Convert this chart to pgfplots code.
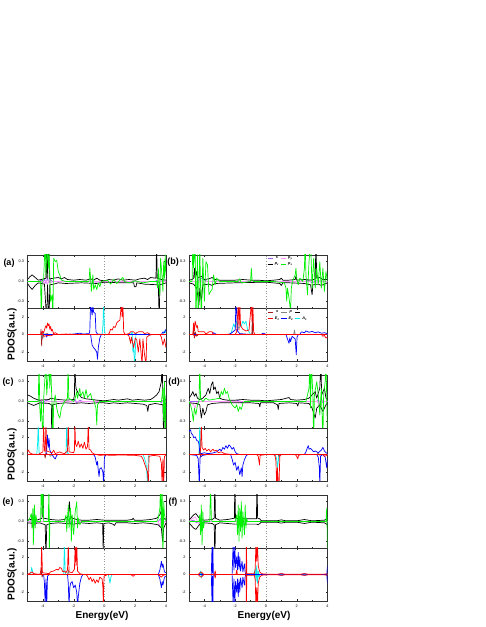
\documentclass[border=0pt]{standalone}
\usepackage{fontspec}
\setmainfont{Liberation Sans}
\usepackage{pgfplots}
\pgfplotsset{compat=1.18}

\definecolor{cs}{RGB}{160,90,250}
\definecolor{cpy}{RGB}{255,150,255}
\definecolor{cpx}{RGB}{0,240,0}
\definecolor{cbs}{RGB}{160,30,30}
\definecolor{cbp}{RGB}{130,130,130}
\definecolor{ce1}{RGB}{255,0,0}
\definecolor{ce2}{RGB}{0,0,255}
\definecolor{ca1}{RGB}{0,235,235}

\pgfplotsset{
  pbase/.style={scale only axis, width=138.5pt, height=53pt, xmin=-5, xmax=4,
    xtick={-4,-2,0,2,4}, minor x tick num=1, tick align=inside,
    axis line style={black!80, line width=0.6pt},
    major tick length=1.6pt, minor tick length=1pt,
    tick style={black!85, line width=0.3pt},
    ticklabel style={font=\fontsize{3.8}{4}\selectfont},
    every axis plot/.append style={line width=0.7pt, line join=round},
    anchor=south west},
  ptop/.style={pbase, ymin=-0.4, ymax=0.4, ytick={-0.3,0,0.3}, yticklabels={-0.3,0.0,0.3}, xticklabels={}},
  pbot/.style={pbase, ymin=-3, ymax=3, ytick={-2,0,2}, yticklabels={-2,0,2}, xticklabels={-4,-2,0,2,4}},
  shortleg/.style={legend image code/.code={\draw[##1] (0pt,0pt) -- (5.5pt,0pt);}},
  legsty/.style={legend style={at={(0.56,#1)}, anchor=north west, draw=none, fill=none,
    font=\fontsize{3.8}{4}\selectfont\bfseries\itshape, inner sep=0.3pt,
    nodes={inner sep=0.6pt}, column sep=0.8pt, row sep=1.2pt}},
}
\newcommand{\zline}{\addplot[dotted, gray!80, line width=0.5pt] coordinates {(0,-5) (0,5)};}

\begin{document}
\begin{tikzpicture}
\path[use as bounding box] (0pt,0pt) rectangle (485pt,627pt);

% ---------------- (a) top
\begin{axis}[ptop, at={(27.5pt,319pt)}]
\zline
\addplot[cs] coordinates {(-5,0) (-4.2,0) (-4.1,0.03) (-4.0,-0.02) (-3.9,0.04) (-3.8,-0.03) (-3.7,0.05) (-3.6,-0.02) (-3.5,0.03) (-3.4,0) (-1,0) (-0.9,0.01) (-0.8,-0.01) (0,0) (3.3,0) (3.4,0.02) (3.5,-0.02) (3.7,0.01) (4,0)};
\addplot[cpy] coordinates {(-5,0) (-4.0,0) (-3.9,-0.03) (-3.8,0.02) (-3.7,-0.04) (-3.6,0.03) (-3.5,-0.02) (-3.3,0) (4,0)};
\addplot[black] coordinates {(-5,0.03) (-4.85,0.07) (-4.7,0.1) (-4.5,0.06) (-4.3,0.02) (-4.1,0.03) (-3.8,0.05) (-3.76,0.6) (-3.72,0.05) (-3.62,0.6) (-3.58,0.04) (-3.3,0.05) (-3.0,0.06) (-2.8,0.04) (-2.6,0.06) (-2.4,0.03) (-2.0,0.02) (-1.6,0.03) (-1.2,0.02) (-0.9,0.04) (-0.7,0.02) (-0.5,0.05) (-0.3,0.02) (0,0.01) (0.3,0.03) (0.6,0.02) (0.9,0.04) (1.2,0.02) (1.6,0.03) (2.0,0.02) (2.3,0.04) (2.6,0.05) (2.8,0.03) (3.0,0.06) (3.35,0.05) (3.39,0.6) (3.43,0.05) (3.7,0.03) (4,0.02)};
\addplot[black] coordinates {(-5,-0.03) (-4.85,-0.08) (-4.7,-0.12) (-4.5,-0.06) (-4.3,-0.02) (-3.9,-0.04) (-3.75,-0.6) (-3.7,-0.05) (-3.6,-0.6) (-3.55,-0.05) (-3.3,-0.04) (-3.0,-0.02) (-2.5,-0.03) (-1.5,-0.02) (-0.5,-0.03) (0,-0.01) (1.0,-0.02) (1.9,-0.02) (1.95,-0.08) (2.05,-0.08) (2.1,-0.02) (2.6,-0.04) (3.5,-0.05) (3.56,-0.6) (3.6,-0.05) (4,-0.02)};
\addplot[cpx] coordinates {(-5,0) (-4.15,0) (-4.1,-0.6) (-4.06,0) (-3.95,0.05) (-3.85,0.6) (-3.8,0.1) (-3.72,0.6) (-3.65,0.2) (-3.6,0.45) (-3.5,-0.3) (-3.4,-0.2) (-3.35,-0.6) (-3.3,0.35) (-3.2,0.3) (-3.1,0.32) (-3.0,0.15) (-2.9,0.1) (-2.8,0.02) (-2.5,0) (-1.0,0) (-0.95,0.2) (-0.9,0.05) (-0.85,-0.15) (-0.75,0.1) (-0.7,-0.12) (-0.6,-0.05) (-0.5,-0.12) (-0.4,-0.02) (-0.3,-0.08) (-0.2,0) (0.2,0.02) (0.4,-0.04) (0.6,0.03) (0.8,-0.03) (1.0,0.02) (1.2,0.06) (1.3,0) (1.6,-0.02) (2.0,0.01) (2.5,-0.02) (3.0,0) (3.4,0) (3.45,-0.1) (3.5,0.2) (3.6,-0.2) (3.65,0.35) (3.75,0.05) (3.8,-0.15) (3.85,0.3) (3.9,0.05) (3.95,0.4) (4,0.1)};
\end{axis}

% ---------------- (a) bottom
\begin{axis}[pbot, at={(27.5pt,266pt)}]
\zline
\addplot[cbs] coordinates {(-5,0) (-4.15,0) (-4.12,0.6) (-4.08,-1.3) (-4.04,0.3) (-4.0,-0.4) (-3.95,0) (-3.7,0.1) (-3.6,-0.1) (-3.5,0) (4,0)};
\addplot[cbp] coordinates {(-5,0) (-4.1,0) (-4.05,-0.5) (-4.0,0.2) (-3.9,0) (4,0)};
\addplot[ca1] coordinates {(-5,0) (-0.15,0) (-0.1,1.0) (-0.05,3.5) (0,0.5) (0.05,0) (1.7,0) (1.8,0.3) (1.85,-2.0) (1.9,-1.0) (1.95,-3.5) (2.0,-2.2) (2.05,0.2) (2.1,0) (3.8,0) (3.9,0.4) (4,0.2)};
\addplot[ce2] coordinates {(-5,0) (-2.5,0) (-2.0,0.05) (-1.6,0.15) (-1.4,0.05) (-1.0,0.1) (-0.95,0.4) (-0.9,3.5) (-0.85,2.8) (-0.8,2.2) (-0.75,3.2) (-0.7,2.5) (-0.6,2.4) (-0.55,0.3) (-0.45,0.05) (0,0) (3.7,0) (3.8,0.3) (3.9,0.2) (4,0.6)};
\addplot[ce2] coordinates {(-5,0) (-3.8,0) (-3.75,-0.3) (-3.7,0) (-0.9,0) (-0.85,-0.6) (-0.8,-1.2) (-0.7,-1.5) (-0.6,-1.7) (-0.5,-2.0) (-0.45,-2.8) (-0.4,-1.5) (-0.3,-0.4) (-0.2,0) (4,0)};
\addplot[ce1] coordinates {(-5,0) (-4.1,0) (-4.05,0.4) (-3.95,0.2) (-3.85,0.8) (-3.8,1.0) (-3.75,0.7) (-3.7,1.3) (-3.65,1.0) (-3.6,1.2) (-3.55,0.6) (-3.5,0.9) (-3.45,0.4) (-3.4,0.6) (-3.3,0.1) (-3.2,0.2) (-3.0,0) (-2.5,0.05) (-2,0) (0.2,0) (0.3,0.1) (0.4,0.6) (0.5,0.5) (0.6,0.9) (0.7,0.8) (0.8,1.3) (0.9,1.5) (1.0,1.6) (1.05,2.5) (1.1,3.5) (1.15,2.0) (1.2,3.5) (1.25,0.3) (1.35,0) (1.6,0.1) (1.7,0.3) (1.9,0.3) (2.0,0.1) (2.2,0.3) (2.5,0.3) (2.6,0.1) (2.8,0.2) (3.0,0) (4,0)};
\addplot[ce1] coordinates {(-5,0) (-4.0,0) (-3.9,-0.2) (-3.7,-0.1) (-3.5,-0.15) (-3.3,0) (1.5,0) (1.6,-0.2) (1.7,-1.0) (1.75,-0.3) (1.9,-1.5) (2.0,-0.4) (2.1,-0.6) (2.2,-2.0) (2.3,-0.5) (2.4,-2.5) (2.45,-3.5) (2.5,-0.5) (2.6,-2.2) (2.7,-3.5) (2.75,-0.3) (2.9,-0.1) (3.1,0) (3.6,0) (3.7,-0.3) (3.8,-1.2) (3.9,-0.5) (4,-1.5)};
\end{axis}

% ---------------- (b) top
\begin{axis}[ptop, at={(189pt,319pt)}, shortleg, legend columns=2, legsty=0.99]
\addlegendimage{cs, line width=0.9pt}
\addlegendimage{cpy, line width=0.9pt}
\addlegendimage{black, line width=0.9pt}
\addlegendimage{cpx, line width=0.9pt}
\zline
\addplot[cs] coordinates {(-5,0) (-4.5,0) (-4.4,0.02) (-4.2,0.05) (-4.0,0.02) (-3.8,0) (2.5,0) (2.7,0.02) (3.0,-0.02) (3.3,0.01) (4,0)};
\addplot[cpy] coordinates {(-5,0) (-4.5,0) (-4.4,-0.03) (-4.3,0.04) (-4.1,-0.02) (-3.9,0) (2.9,0) (3.0,0.03) (3.2,-0.03) (3.4,0) (4,0)};
\addplot[black] coordinates {(-5,0.02) (-4.8,0.03) (-4.7,0.05) (-4.65,0.2) (-4.6,0.05) (-4.5,0.15) (-4.45,0.05) (-4.2,0.08) (-4.0,0.03) (-3.7,0.04) (-3.5,0.06) (-3.3,0.03) (-3.0,0.02) (-2.0,0.02) (-1.5,0.03) (-1.0,0.02) (-0.5,0.02) (0,0.01) (0.5,0.02) (0.9,0.03) (1.0,0.05) (1.1,0.02) (1.5,0.02) (1.9,0.03) (1.95,0.08) (2.0,0.02) (2.5,0.03) (3.0,0.02) (3.2,0.04) (3.25,0.6) (3.3,0.05) (3.5,0.06) (3.7,0.03) (4,0.03)};
\addplot[black] coordinates {(-5,-0.02) (-4.7,-0.04) (-4.5,-0.1) (-4.35,-0.35) (-4.3,-0.1) (-4.2,-0.3) (-4.1,-0.05) (-3.7,-0.04) (-3.5,-0.06) (-3.3,-0.03) (-2.0,-0.02) (0,-0.01) (0.9,-0.03) (1.0,-0.06) (1.1,-0.02) (1.5,-0.02) (2.5,-0.03) (2.9,-0.05) (3.0,-0.2) (3.05,-0.05) (3.4,-0.04) (3.6,-0.06) (4,-0.02)};
\addplot[cpx] coordinates {(-5,0) (-4.8,0) (-4.75,0.6) (-4.7,0.2) (-4.6,0.6) (-4.55,-0.6) (-4.45,0.4) (-4.4,-0.6) (-4.3,0.5) (-4.2,-0.6) (-4.1,0.35) (-4.0,-0.3) (-3.9,0.3) (-3.8,0.25) (-3.7,-0.2) (-3.6,-0.15) (-3.5,-0.12) (-3.4,0.1) (-3.3,-0.05) (-3.2,0.05) (-3.0,0) (-1.8,0) (-1.7,0.04) (-1.6,-0.02) (-1.0,0) (-0.95,0.2) (-0.9,0.02) (-0.8,0) (0.5,0) (1.2,-0.02) (1.3,-0.1) (1.35,-0.3) (1.4,-0.1) (1.5,-0.25) (1.6,-0.45) (1.65,-0.1) (1.75,0.02) (1.9,0.1) (1.95,0.2) (2.0,0.05) (2.1,-0.05) (2.2,0.05) (2.4,0) (2.5,0.2) (2.55,0.6) (2.6,0.1) (2.7,-0.2) (2.8,0.3) (2.9,0.6) (3.0,-0.1) (3.1,0.35) (3.2,-0.1) (3.3,0.2) (3.4,-0.05) (3.5,0.3) (3.6,-0.1) (3.7,0.2) (3.8,-0.15) (3.9,0.15) (4,0)};
\legend{s, p\textsubscript{y}, p\textsubscript{z}, p\textsubscript{x}}
\end{axis}

% ---------------- (b) bottom
\begin{axis}[pbot, at={(189pt,266pt)}, shortleg, legend columns=3, legsty=0.97]
\addlegendimage{cbs, line width=0.9pt}
\addlegendimage{cbp, line width=0.9pt}
\addlegendimage{draw=none}
\addlegendimage{ce1, line width=0.9pt}
\addlegendimage{ce2, line width=0.9pt}
\addlegendimage{ca1, line width=0.9pt}
\zline
\addplot[cbs] coordinates {(-5,0) (-4.75,0) (-4.7,0.5) (-4.65,-0.4) (-4.6,0.3) (-4.5,-0.2) (-4.4,0) (-0.92,0) (-0.88,2.0) (-0.85,0) (4,0)};
\addplot[cbp] coordinates {(-5,0) (1.8,0) (1.86,0.5) (1.9,0) (4,0)};
\addplot[ca1] coordinates {(-5,0) (-2.3,0) (-2.2,0.5) (-2.1,1.2) (-2.0,0.8) (-1.9,1.5) (-1.8,0.7) (-1.6,1.0) (-1.5,1.5) (-1.4,1.2) (-1.3,1.5) (-1.2,0.6) (-1.1,0.3) (-1.0,0) (4,0)};
\addplot[ce2] coordinates {(-5,0) (-3.5,0) (-3.4,0.2) (-3.3,0.1) (-3.2,0) (-2.5,0) (-2.3,0.1) (-2.0,0.5) (-1.95,3.5) (-1.9,2.5) (-1.85,0.4) (-1.7,0.1) (-1.0,0) (-0.3,0) (-0.2,0.15) (-0.1,0.1) (0,0) (2.2,0) (2.3,0.3) (2.5,0.2) (2.6,0.4) (2.8,0.25) (3.0,0.35) (3.2,0.2) (3.4,0.3) (3.6,0.15) (3.8,0.2) (4,0.1)};
\addplot[ce2] coordinates {(-5,0) (1.3,0) (1.4,-0.5) (1.5,-1.0) (1.55,-0.4) (1.6,-0.8) (1.7,-0.2) (1.9,-0.5) (1.97,-2.3) (2.02,-0.3) (2.1,0) (4,0)};
\addplot[ce1] coordinates {(-5,0) (-4.75,0) (-4.7,1.3) (-4.65,0.4) (-4.6,1.5) (-4.5,0.8) (-4.45,1.0) (-4.4,0.3) (-4.2,0.3) (-4.0,0.3) (-3.9,0.05) (-3.7,0.3) (-3.5,0.3) (-3.4,0) (-2.0,0) (-1.9,0.3) (-1.8,3.5) (-1.75,0.5) (-1.7,3.5) (-1.65,1.0) (-1.5,0.6) (-1.3,0.4) (-1.1,0.5) (-0.95,3.5) (-0.9,1.5) (-0.85,3.5) (-0.8,0.3) (-0.7,0) (4,0)};
\addplot[ce1] coordinates {(-5,0) (-4.7,0) (-4.65,-0.2) (-4.55,-0.1) (-4.5,0) (3.6,0) (3.7,-0.2) (3.8,-0.1) (3.9,-0.4) (4,-0.3)};
\legend{s, p, \phantom{p}, E\textsubscript{1}, E\textsubscript{2}, A\textsubscript{1}}
\end{axis}

% ---------------- (c) top
\begin{axis}[ptop, at={(27.5pt,199pt)}]
\zline
\addplot[cs] coordinates {(-5,0) (-4.4,0) (-4.2,0.02) (-4.0,-0.03) (-3.8,0.02) (-3.6,0) (-2.0,0) (-1.9,0.03) (-1.8,-0.02) (-1.6,0.02) (-1.4,0) (3.6,0) (3.7,-0.02) (3.8,0.02) (4,0)};
\addplot[cpy] coordinates {(-5,0) (-4.3,0) (-4.2,-0.04) (-4.1,0.03) (-3.9,-0.02) (-3.7,0) (4,0)};
\addplot[black] coordinates {(-5,0.1) (-4.8,0.08) (-4.6,0.05) (-4.4,0.03) (-4.2,0.02) (-3.6,0.03) (-3.5,0.05) (-3.3,0.04) (-3.0,0.03) (-2.5,0.02) (-2.0,0.03) (-1.95,0.1) (-1.92,0.6) (-1.88,0.3) (-1.85,0.2) (-1.7,0.12) (-1.5,0.06) (-1.2,0.04) (-0.8,0.03) (-0.5,0.02) (0,0.01) (0.3,0.02) (0.6,0.03) (0.9,0.02) (1.2,0.03) (1.5,0.04) (1.8,0.02) (2.2,0.03) (2.6,0.02) (3.0,0.03) (3.2,0.06) (3.4,0.1) (3.55,0.15) (3.65,0.25) (3.7,0.3) (3.75,0.6) (3.8,0.05) (4,0.02)};
\addplot[black] coordinates {(-5,-0.02) (-4.8,-0.04) (-4.6,-0.06) (-4.4,-0.04) (-4.2,-0.02) (-3.6,-0.03) (-3.45,-0.05) (-3.42,-0.6) (-3.38,-0.05) (-3.0,-0.03) (-2.5,-0.02) (-2.0,-0.03) (-1.5,-0.02) (-1.0,-0.03) (-0.5,-0.02) (0,-0.02) (0.3,-0.03) (0.6,-0.02) (1.0,-0.03) (1.5,-0.02) (2.0,-0.03) (2.5,-0.04) (2.75,-0.06) (2.82,-0.15) (2.88,-0.05) (3.3,-0.03) (3.8,-0.05) (3.85,-0.6) (3.9,-0.05) (4,-0.02)};
\addplot[cpx] coordinates {(-5,0) (-4.3,0) (-4.25,0.6) (-4.2,-0.1) (-4.15,-0.3) (-4.1,0) (-4.0,-0.6) (-3.95,0.05) (-3.8,0.6) (-3.75,0.1) (-3.6,0.6) (-3.55,0.2) (-3.5,0.6) (-3.4,-0.1) (-3.35,-0.6) (-3.3,-0.05) (-3.2,0.1) (-3.1,-0.1) (-3.0,-0.2) (-2.9,-0.25) (-2.8,-0.1) (-2.6,0) (-2.4,0.05) (-2.36,0.6) (-2.32,0.05) (-2.0,0) (-1.9,0.05) (-1.8,0.15) (-1.75,0.05) (-1.6,0.2) (-1.55,0.08) (-1.4,0.15) (-1.3,0.05) (-1.2,0.18) (-1.1,0.06) (-0.9,0.12) (-0.8,0.03) (-0.7,0.02) (-0.55,-0.1) (-0.5,-0.35) (-0.45,-0.05) (-0.3,0) (3.7,0) (3.8,0.2) (3.85,-0.3) (3.9,0.3) (3.95,-0.6) (4,0.1)};
\end{axis}

% ---------------- (c) bottom
\begin{axis}[pbot, at={(27.5pt,146pt)}]
\zline
\addplot[cbs] coordinates {(-5,0) (-3.9,0) (-3.85,-0.4) (-3.8,0.2) (-3.7,0) (4,0)};
\addplot[cbp] coordinates {(-5,0) (-3.6,0) (-3.5,-0.2) (-3.4,0) (4,0)};
\addplot[ca1] coordinates {(-5,0) (-4.4,0) (-4.35,1.0) (-4.3,3.5) (-4.25,0.3) (-4.2,0) (-2.5,0) (-2.45,3.5) (-2.4,0.2) (-2.3,0) (2.5,0) (2.6,-0.4) (2.7,-1.0) (2.75,-2.0) (2.8,-3.5) (2.85,-0.3) (2.9,0) (4,0)};
\addplot[ce2] coordinates {(-5,0) (-3.8,0) (-3.75,1.0) (-3.7,2.2) (-3.65,0.8) (-3.6,1.8) (-3.55,0.5) (-3.5,0.3) (-3.4,0) (4,0)};
\addplot[ce2] coordinates {(-5,0) (-3.4,0) (-3.3,-0.3) (-3.2,-0.5) (-3.1,-0.1) (-3.0,0) (-0.7,0) (-0.6,-0.3) (-0.5,-1.2) (-0.45,-0.8) (-0.4,-1.8) (-0.35,-2.5) (-0.3,-1.6) (-0.2,-1.5) (-0.1,-2.0) (-0.05,-3.5) (0,-0.3) (0.1,0) (4,0)};
\addplot[ce1] coordinates {(-5,0.3) (-4.95,0.5) (-4.85,0.2) (-4.7,0.05) (-4.3,0) (-4.0,0.3) (-3.95,3.5) (-3.9,0.5) (-3.85,0.3) (-3.8,3.5) (-3.75,0.4) (-3.6,0.3) (-3.4,0.2) (-3.3,0.5) (-3.2,0.1) (-2.9,0.3) (-2.8,0.2) (-2.6,0.1) (-2.4,0.4) (-2.35,3.5) (-2.3,0.3) (-2.0,0.2) (-1.95,0.5) (-1.92,3.5) (-1.88,1.2) (-1.8,0.9) (-1.7,1.5) (-1.6,0.8) (-1.5,1.2) (-1.4,0.7) (-1.3,1.4) (-1.2,0.6) (-1.1,0.9) (-1.05,3.5) (-1.0,0.6) (-0.9,0.5) (-0.8,0.2) (-0.6,0) (4,0)};
\addplot[ce1] coordinates {(-5,0) (-0.5,0) (-0.3,-0.1) (0,-0.05) (0.5,-0.1) (1.0,-0.05) (2.0,-0.1) (2.4,-0.2) (2.5,-0.5) (2.6,-1.0) (2.7,-1.5) (2.8,-2.0) (2.85,-3.5) (2.9,-0.2) (3.2,-0.1) (3.6,-0.2) (3.7,-1.0) (3.75,-3.5) (3.8,-0.5) (3.85,-3.5) (3.9,-0.2) (4,-0.1)};
\end{axis}

% ---------------- (d) top
\begin{axis}[ptop, at={(189pt,199pt)}]
\zline
\addplot[cs] coordinates {(-5,0) (-2.0,0) (-1.8,0.02) (-1.6,-0.02) (-1.4,0) (3.3,0) (3.4,0.03) (3.5,-0.05) (3.6,0.04) (3.7,-0.02) (3.8,0) (4,0)};
\addplot[cpy] coordinates {(-5,0) (-4.7,-0.05) (-4.6,-0.1) (-4.5,-0.02) (-4.3,0) (3.3,0) (3.45,-0.04) (3.55,0.03) (3.7,0) (4,0)};
\addplot[black] coordinates {(-5,0.05) (-4.85,0.1) (-4.75,0.15) (-4.65,0.08) (-4.55,0.12) (-4.45,0.05) (-4.3,0.03) (-4.1,0.05) (-3.9,0.1) (-3.75,0.2) (-3.65,0.12) (-3.55,0.25) (-3.45,0.3) (-3.4,0.18) (-3.3,0.22) (-3.2,0.12) (-3.1,0.15) (-3.0,0.05) (-2.8,0.03) (-2.5,0.02) (-2.0,0.02) (-1.5,0.03) (-1.0,0.02) (-0.5,0.02) (0,0.01) (0.5,0.02) (1.0,0.03) (1.5,0.06) (1.6,0.03) (2.0,0.02) (2.5,0.03) (2.8,0.05) (3.0,0.1) (3.2,0.15) (3.3,0.05) (3.5,0.2) (3.57,0.6) (3.62,0.1) (3.8,0.2) (3.9,0.05) (4,0.03)};
\addplot[black] coordinates {(-5,-0.02) (-4.5,-0.03) (-4.3,-0.05) (-4.2,-0.25) (-4.1,-0.1) (-4.0,-0.2) (-3.9,-0.15) (-3.8,-0.05) (-3.5,-0.03) (-3.0,-0.02) (-2.0,-0.02) (-1.0,-0.02) (-0.45,-0.03) (-0.4,-0.08) (-0.35,-0.02) (0.5,-0.02) (0.75,-0.05) (0.8,-0.12) (0.85,-0.03) (1.5,-0.02) (2.0,-0.03) (2.07,-0.07) (2.12,-0.02) (2.8,-0.03) (3.0,-0.1) (3.2,-0.25) (3.3,-0.1) (3.5,-0.05) (3.7,-0.15) (3.9,-0.05) (4,-0.02)};
\addplot[cpx] coordinates {(-5,0) (-4.9,-0.05) (-4.8,-0.15) (-4.72,-0.3) (-4.65,-0.1) (-4.55,-0.2) (-4.45,-0.05) (-4.35,0) (-4.3,0.6) (-4.25,0.05) (-4.1,0) (-3.9,0.05) (-3.7,0.02) (-3.0,0.05) (-2.9,0.15) (-2.8,0.1) (-2.7,0.2) (-2.6,0.12) (-2.5,0.15) (-2.4,0.05) (-2.3,0) (-2.2,-0.05) (-2.0,-0.1) (-1.9,-0.05) (-1.8,-0.15) (-1.7,-0.08) (-1.6,-0.12) (-1.5,-0.03) (-1.4,0) (2.6,0) (2.8,0.2) (2.85,0.6) (2.9,-0.1) (2.95,0.6) (3.05,0.1) (3.1,-0.6) (3.15,0.1) (3.3,0.3) (3.4,0.1) (3.5,-0.2) (3.6,0.2) (3.7,-0.6) (3.75,0.1) (3.85,0.3) (3.9,0.6) (3.95,0.05) (4,-0.5)};
\end{axis}

% ---------------- (d) bottom
\begin{axis}[pbot, at={(189pt,146pt)}]
\zline
\addplot[cbs] coordinates {(-5,0) (-4.35,0) (-4.3,0.5) (-4.25,-0.3) (-4.2,0) (0.8,0) (0.85,-0.3) (0.9,0) (4,0)};
\addplot[cbp] coordinates {(-5,0) (3.3,0) (3.4,0.2) (3.5,-0.1) (3.6,0) (4,0)};
\addplot[ca1] coordinates {(-5,0) (-4.35,0) (-4.3,3.5) (-4.25,0.2) (-4.2,0) (0.6,0) (0.7,-0.5) (0.75,-1.5) (0.8,-0.8) (0.85,0) (4,0)};
\addplot[ce2] coordinates {(-5,2.6) (-4.9,2.8) (-4.85,2.4) (-4.75,2.2) (-4.7,1.9) (-4.6,2.0) (-4.5,1.6) (-4.4,1.5) (-4.35,1.2) (-4.3,0.2) (-4.2,0.1) (-4.0,0.2) (-3.8,0.1) (-3.5,0.15) (-3.2,0.3) (-3.0,0.6) (-2.9,0.4) (-2.8,0.8) (-2.7,0.6) (-2.6,1.0) (-2.5,0.7) (-2.4,1.1) (-2.3,0.9) (-2.2,0.6) (-2.1,0.8) (-2.0,0.3) (-1.9,0.1) (-1.7,0) (2.5,0) (2.6,0.3) (2.7,0.8) (2.75,1.0) (2.8,0.6) (2.9,0.7) (3.0,0.5) (3.1,0.3) (3.2,0.4) (3.4,0.2) (3.6,0.5) (3.7,0.8) (3.8,0.4) (3.9,0.2) (4,0.1)};
\addplot[ce2] coordinates {(-5,0) (-4.5,-0.1) (-4.4,-0.5) (-4.33,-3.5) (-4.28,-0.3) (-4.1,-0.1) (-3.8,0) (-2.3,0) (-2.2,-0.5) (-2.1,-1.2) (-2.0,-0.9) (-1.9,-1.8) (-1.8,-1.3) (-1.7,-2.3) (-1.6,-1.5) (-1.55,-2.5) (-1.5,-1.2) (-1.4,-0.6) (-1.3,-0.2) (-1.2,0) (3.3,0) (3.4,-0.3) (3.47,-1.5) (3.5,-3.5) (3.55,-0.2) (3.7,0) (3.85,-0.3) (3.95,-1.5) (4,-0.5)};
\addplot[ce1] coordinates {(-5,0) (-4.3,0) (-4.25,0.5) (-4.2,3.5) (-4.15,0.8) (-4.05,0.5) (-3.95,0.7) (-3.85,0.4) (-3.7,0.6) (-3.6,0.3) (-3.45,0.6) (-3.35,0.4) (-3.2,0.5) (-3.1,0.2) (-2.9,0.3) (-2.7,0.1) (-2.5,0.05) (-2.0,0) (4,0)};
\addplot[ce1] coordinates {(-5,0) (-0.6,0) (-0.5,-0.2) (-0.42,-1.2) (-0.38,-0.1) (0,0) (0.5,0) (0.6,-0.2) (0.65,-0.8) (0.7,-3.5) (0.75,-1.5) (0.8,-3.5) (0.85,-3.5) (0.9,-0.2) (1.0,0) (1.9,0) (2.0,-0.2) (2.07,-0.5) (2.12,-0.1) (2.3,0) (3.7,0) (3.8,-0.2) (4,-0.1)};
\end{axis}

% ---------------- (e) top
\begin{axis}[ptop, at={(27.5pt,79pt)}]
\zline
\addplot[cs] coordinates {(-5,0) (-4.8,0) (-4.7,0.08) (-4.65,-0.06) (-4.6,0.1) (-4.5,-0.05) (-4.4,0) (-2.4,0) (-2.3,0.03) (-2.2,-0.03) (-2.1,0.02) (-2.0,0) (3.5,0) (3.65,0.05) (3.7,-0.05) (3.75,0.06) (3.8,-0.04) (3.9,0) (4,0)};
\addplot[cpy] coordinates {(-5,0) (-4.8,0) (-4.72,-0.1) (-4.65,0.12) (-4.55,-0.08) (-4.45,0) (3.5,0) (3.6,-0.08) (3.7,0.08) (3.8,-0.06) (3.9,0) (4,0)};
\addplot[black] coordinates {(-5,0.02) (-4.8,0.03) (-4.6,0.04) (-4.4,0.02) (-4.05,0.05) (-4.0,0.6) (-3.95,0.05) (-3.5,0.03) (-3.0,0.02) (-2.6,0.03) (-2.35,0.08) (-2.28,0.3) (-2.22,0.1) (-2.1,0.05) (-1.8,0.03) (-1.5,0.02) (-1.0,0.02) (-0.5,0.03) (0,0.02) (0.5,0.02) (1.0,0.02) (1.5,0.02) (1.8,0.03) (1.87,0.05) (1.95,0.02) (2.5,0.02) (3.0,0.03) (3.4,0.05) (3.6,0.1) (3.75,0.2) (3.85,0.05) (4,0.02)};
\addplot[black] coordinates {(-5,-0.02) (-4.6,-0.03) (-4.2,-0.02) (-3.85,-0.05) (-3.8,-0.6) (-3.75,-0.05) (-3.5,-0.03) (-3.0,-0.02) (-2.5,-0.03) (-2.0,-0.04) (-1.5,-0.02) (-1.0,-0.03) (-0.5,-0.02) (-0.12,-0.03) (-0.08,-0.45) (-0.04,-0.03) (0.3,-0.02) (0.55,-0.04) (0.65,-0.06) (0.75,-0.02) (1.5,-0.02) (2.0,-0.03) (2.5,-0.02) (3.0,-0.03) (3.5,-0.05) (3.7,-0.1) (3.78,-0.3) (3.85,-0.1) (4,-0.02)};
\addplot[cpx] coordinates {(-5,0) (-4.85,0.05) (-4.75,0.12) (-4.7,-0.1) (-4.65,0.2) (-4.62,-0.35) (-4.55,0.25) (-4.5,-0.1) (-4.45,0.1) (-4.4,0) (-4.15,0) (-4.1,0.6) (-4.05,0.1) (-4.0,0.6) (-3.95,0) (-3.65,0) (-3.6,0.6) (-3.58,-0.6) (-3.55,0) (-2.6,0) (-2.5,0.1) (-2.45,-0.15) (-2.35,0.25) (-2.3,-0.1) (-2.2,0.2) (-2.15,-0.3) (-2.1,0.1) (-2.0,-0.2) (-1.9,0.15) (-1.8,0.3) (-1.75,-0.1) (-1.7,0.05) (-1.6,-0.05) (-1.5,0) (3.4,0) (3.5,0.05) (3.6,0.2) (3.65,0.6) (3.7,-0.1) (3.75,0.6) (3.8,-0.6) (3.85,0.3) (3.9,0.1) (4,0)};
\end{axis}

% ---------------- (e) bottom
\begin{axis}[pbot, at={(27.5pt,26pt)}]
\zline
\addplot[cbs] coordinates {(-5,0) (-4.15,0) (-4.1,0.8) (-4.05,-0.3) (-4.0,0) (4,0)};
\addplot[cbp] coordinates {(-5,0) (-2.4,0) (-2.35,0.5) (-2.3,0) (4,0)};
\addplot[ca1] coordinates {(-5,0) (-4.8,0) (-4.73,0.8) (-4.65,0.2) (-4.6,0) (-2.65,0) (-2.6,3.5) (-2.55,0.2) (-2.5,0) (0.25,0) (0.3,-0.4) (0.36,-1.0) (0.42,-0.3) (0.5,0) (4,0)};
\addplot[ce2] coordinates {(-5,0) (3.5,0) (3.6,0.5) (3.7,1.5) (3.75,0.8) (3.8,1.2) (3.9,0.3) (4,0.2)};
\addplot[ce2] coordinates {(-5,0) (-3.95,0) (-3.9,-1.0) (-3.85,-3.5) (-3.8,-0.5) (-3.75,-3.5) (-3.7,-0.2) (-3.6,0) (-2.4,0) (-2.35,-1.0) (-2.3,-3.5) (-2.25,-1.5) (-2.2,-1.0) (-2.1,-0.8) (-2.0,-1.5) (-1.9,-1.2) (-1.8,-2.0) (-1.75,-3.5) (-1.7,-2.5) (-1.6,-1.0) (-1.5,-0.3) (-1.4,0) (3.5,0) (3.6,-0.5) (3.7,-1.5) (3.75,-0.8) (3.8,-1.2) (3.9,-0.3) (4,-0.2)};
\addplot[ce1] coordinates {(-5,0) (-4.8,0.2) (-4.7,0.3) (-4.6,0.1) (-4.2,0) (-4.12,0.5) (-4.08,3.5) (-4.03,0.2) (-3.6,0.1) (-3.5,0.3) (-3.3,0.4) (-3.1,0.6) (-3.0,0.5) (-2.9,0.8) (-2.8,0.7) (-2.7,0.3) (-2.6,0.4) (-2.5,0.2) (-2.4,0.5) (-2.35,3.5) (-2.3,0.3) (-2.1,0.2) (-1.95,0.6) (-1.9,3.5) (-1.85,1.0) (-1.8,3.5) (-1.75,0.4) (-1.6,0.1) (-1.4,0) (4,0)};
\addplot[ce1] coordinates {(-5,0) (-1.2,0) (-1.1,-0.2) (-1.0,-0.6) (-0.9,-0.3) (-0.8,-0.8) (-0.7,-0.5) (-0.6,-1.0) (-0.5,-0.6) (-0.4,-0.9) (-0.3,-0.3) (-0.15,-0.5) (-0.1,-1.5) (-0.07,-3.5) (-0.03,-0.2) (0.2,0) (1.7,0) (1.87,-0.2) (2.0,0) (3.5,0) (3.7,-0.3) (3.8,-0.1) (4,0)};
\end{axis}

% ---------------- (f) top
\begin{axis}[ptop, at={(189pt,79pt)}]
\zline
\addplot[cs] coordinates {(-5,0) (-4.7,0.02) (-4.5,-0.02) (-4.3,0.01) (-4.0,0) (-1.9,0) (-1.8,0.04) (-1.7,-0.04) (-1.6,0.05) (-1.5,-0.03) (-1.4,0) (4,0)};
\addplot[cpy] coordinates {(-5,0) (-4.8,0.04) (-4.6,0.07) (-4.5,0.03) (-4.35,-0.05) (-4.2,0.1) (-4.1,-0.06) (-4.0,0) (-1.9,0) (-1.75,-0.05) (-1.65,0.04) (-1.5,0) (4,0)};
\addplot[black] coordinates {(-5,0.02) (-4.85,0.06) (-4.7,0.1) (-4.55,0.12) (-4.4,0.07) (-4.25,0.03) (-4.0,0.02) (-3.5,0.03) (-3.36,0.05) (-3.32,0.6) (-3.28,0.05) (-3.0,0.02) (-2.5,0.03) (-2.05,0.05) (-2.02,0.6) (-1.98,0.05) (-1.5,0.04) (-0.62,0.04) (-0.58,0.6) (-0.54,0.05) (-0.4,0.04) (-0.3,0.01) (0,0.01) (0.7,0.01) (1.0,0.025) (1.3,0.01) (2.0,0.01) (2.5,0.03) (3.0,0.01) (3.8,0.02) (4,0.05)};
\addplot[black] coordinates {(-5,-0.02) (-4.85,-0.06) (-4.7,-0.1) (-4.55,-0.12) (-4.4,-0.07) (-4.25,-0.03) (-4.0,-0.02) (-3.5,-0.03) (-3.36,-0.05) (-3.32,-0.6) (-3.28,-0.05) (-3.0,-0.02) (-2.5,-0.03) (-2.0,-0.04) (-1.5,-0.04) (-0.6,-0.04) (-0.5,-0.05) (-0.4,-0.03) (-0.3,-0.01) (0,-0.01) (0.7,-0.01) (1.0,-0.025) (1.3,-0.01) (2.0,-0.01) (2.5,-0.03) (3.0,-0.01) (3.8,-0.02) (4,-0.05)};
\addplot[cpx] coordinates {(-5,0) (-4.35,0) (-4.3,0.1) (-4.25,-0.2) (-4.2,0.25) (-4.15,-0.35) (-4.1,0.15) (-4.05,-0.1) (-4.0,0) (-3.65,0) (-3.6,0.6) (-3.55,0.05) (-3.5,0) (-2.0,0) (-1.9,0.1) (-1.85,-0.2) (-1.8,0.25) (-1.75,-0.3) (-1.7,0.2) (-1.65,-0.15) (-1.6,0.3) (-1.55,-0.25) (-1.5,0.15) (-1.4,-0.2) (-1.35,0.25) (-1.3,-0.1) (-1.25,0.05) (-1.2,0) (3.9,0) (3.95,0.2) (4,-0.4)};
\end{axis}

% ---------------- (f) bottom
\begin{axis}[pbot, at={(189pt,26pt)}]
\zline
\addplot[cbs] coordinates {(-5,0) (-4.25,0) (-4.2,0.2) (-4.15,-0.2) (-4.1,0) (4,0)};
\addplot[ca1] coordinates {(-5,0) (-4.3,0) (-4.25,0.4) (-4.2,-0.4) (-4.15,0.2) (-4.1,0) (-0.8,0) (-0.7,0.6) (-0.65,-0.8) (-0.6,1.0) (-0.55,-1.0) (-0.5,0.4) (-0.45,-0.3) (-0.4,0) (4,0)};
\addplot[ce2] coordinates {(-5,0) (-3.55,0) (-3.5,3.5) (-3.47,0.2) (-3.45,3.5) (-3.42,0) (-2.2,0) (-2.13,3.5) (-2.08,0.5) (-2.02,3.5) (-1.98,0.8) (-1.9,2.0) (-1.85,0.5) (-1.8,2.5) (-1.75,0.6) (-1.7,2.0) (-1.65,0.4) (-1.55,1.5) (-1.5,0.3) (-1.4,1.2) (-1.35,0.2) (-1.3,0) (0.8,0) (1.0,0.08) (1.2,0) (2.3,0) (2.5,0.08) (2.7,0) (3.95,0) (4,1.0)};
\addplot[ce2] coordinates {(-5,0) (-3.55,0) (-3.5,-3.5) (-3.47,-0.2) (-3.45,-3.5) (-3.42,0) (-2.2,0) (-2.13,-3.5) (-2.08,-0.5) (-2.02,-3.5) (-1.98,-0.8) (-1.9,-2.0) (-1.85,-0.5) (-1.8,-2.5) (-1.75,-0.6) (-1.7,-2.0) (-1.65,-0.4) (-1.55,-1.5) (-1.5,-0.3) (-1.4,-1.2) (-1.35,-0.2) (-1.3,0) (0.8,0) (1.0,-0.08) (1.2,0) (2.3,0) (2.5,-0.08) (2.7,0) (3.95,0) (4,-1.0)};
\addplot[ce1] coordinates {(-5,0) (-4.4,0) (-4.3,0.2) (-4.2,0.3) (-4.1,0.1) (-4.0,0) (-3.35,0) (-3.3,0.4) (-3.25,0) (-1.95,0) (-1.9,0.5) (-1.85,0) (-1.3,0) (-1.27,3.5) (-1.24,0.1) (-0.75,0.1) (-0.7,0.6) (-0.65,3.5) (-0.6,1.5) (-0.55,3.5) (-0.5,1.0) (-0.45,0.6) (-0.4,0.3) (-0.3,0.1) (-0.1,0.05) (0.7,0.02) (1.0,0.1) (1.3,0.02) (2.2,0.02) (2.5,0.1) (2.8,0.02) (4,0.05)};
\addplot[ce1] coordinates {(-5,0) (-4.4,0) (-4.3,-0.2) (-4.2,-0.3) (-4.1,-0.1) (-4.0,0) (-3.35,0) (-3.3,-0.4) (-3.25,0) (-1.3,0) (-1.27,-3.5) (-1.24,-0.1) (-0.75,-0.1) (-0.7,-0.6) (-0.65,-3.5) (-0.6,-1.5) (-0.55,-3.5) (-0.5,-1.0) (-0.45,-0.6) (-0.4,-0.3) (-0.3,-0.1) (-0.1,-0.05) (0.7,-0.02) (1.0,-0.1) (1.3,-0.02) (2.2,-0.02) (2.5,-0.1) (2.8,-0.02) (4,-0.05)};
\end{axis}

% ---------------- labels
\begin{scope}[every node/.style={font=\bfseries\fontsize{9}{10}\selectfont}]
\node at (9pt,364pt) {(a)};
\node at (173pt,365pt) {(b)};
\node at (8pt,245pt) {(c)};
\node at (174pt,245pt) {(d)};
\node at (8pt,125pt) {(e)};
\node at (173pt,125pt) {(f)};
\end{scope}
\begin{scope}[every node/.style={font=\bfseries\fontsize{10}{12}\selectfont}]
\node[rotate=90] at (12pt,292.5pt) {PDOS(a.u.)};
\node[rotate=90] at (12pt,172.5pt) {PDOS(a.u.)};
\node[rotate=90] at (12pt,52.5pt) {PDOS(a.u.)};
\node at (102pt,11pt) {Energy(eV)};
\node at (264pt,11pt) {Energy(eV)};
\end{scope}
\end{tikzpicture}
\end{document}
